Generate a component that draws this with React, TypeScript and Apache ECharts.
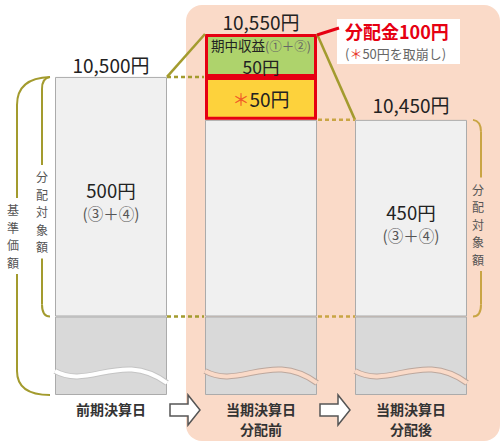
import React, { useEffect, useRef } from 'react';
import * as echarts from 'echarts';

// ---- data ----
const categories = ['前期決算日', '当期決算日\n分配前', '当期決算日\n分配後'];
const baseValue = [10000, 10000, 10000];
const distributable = [500, 450, 450];
const reserveUsed: (number | string)[] = ['-', 50, '-'];
const periodIncome: (number | string)[] = ['-', 50, '-'];
const navTotals = [10500, 10550, 10450];
const distributionTotal = 100;
const reserveTaken = 50;
const braceLabels = ['基準価額', '分配対象額', '分配対象額'];

// ---- styles ----
const FONT = "'Noto Sans CJK JP', 'Noto Sans', sans-serif";
const BAR_W = 112;
const OLIVE = '#a39b2e';
const GOLD = '#c9a544';
const RED = '#e60012';
const PINK = '#fadac8';
const VLH = 17.5;

const fmt = (n: number) => String(n).replace(/\B(?=(\d{3})+(?!\d))/g, ',');
const vert = (s: string) => s.split('').join('\n');

const option: any = {
  animation: false,
  textStyle: { fontFamily: FONT },
  grid: { left: 36, top: 34, width: 450, height: 361, containLabel: false, outerBoundsMode: 'none' },
  xAxis: {
    type: 'category',
    data: categories,
    axisLine: { show: false },
    axisTick: { show: false },
    splitLine: { show: false },
    axisLabel: {
      interval: 0,
      margin: 4,
      fontSize: 14,
      lineHeight: 20.3,
      fontWeight: 'bold',
      color: '#333',
      fontFamily: FONT,
    },
  },
  yAxis: {
    type: 'value',
    min: 0,
    max: 10550,
    axisLine: { show: false },
    axisTick: { show: false },
    axisLabel: { show: false },
    splitLine: { show: false },
    breaks: [
      { start: 12, end: 9940, gap: 19.4 },
      { start: 10050, end: 10400, gap: 129 },
    ],
    breakArea: { show: false },
  },
  series: [
    {
      name: 'base',
      type: 'bar',
      stack: 's',
      barWidth: BAR_W,
      data: baseValue,
      silent: true,
      itemStyle: { color: '#d9d9d9', borderColor: '#ababab', borderWidth: 1 },
    },
    {
      name: 'distributable',
      type: 'bar',
      stack: 's',
      barWidth: BAR_W,
      data: distributable,
      silent: true,
      itemStyle: { color: '#f0f0f0', borderColor: '#ababab', borderWidth: 1 },
      label: {
        show: true,
        position: 'inside',
        offset: [0, 4],
        textBorderWidth: 0,
        formatter: (p: any) => (p.dataIndex === 1 ? '' : `{v|${p.value}円}\n{s|(③＋④)}`),
        rich: {
          v: { fontSize: 18.5, color: '#222', lineHeight: 25, fontFamily: FONT },
          s: { fontSize: 15.5, color: '#555', lineHeight: 21, fontFamily: FONT },
        },
      },
    },
    {
      name: 'reserve',
      type: 'bar',
      stack: 's',
      barWidth: BAR_W,
      data: reserveUsed,
      silent: true,
      itemStyle: { color: '#fdd23c', borderColor: RED, borderWidth: 3 },
      label: {
        show: true,
        position: 'inside',
        textBorderWidth: 0,
        formatter: (p: any) => `{a|＊}{v|${p.value}円}`,
        rich: {
          a: { fontSize: 17, color: '#f05a28', fontFamily: FONT, lineHeight: 22 },
          v: { fontSize: 19, color: '#222', fontFamily: FONT, lineHeight: 22 },
        },
      },
    },
    {
      name: 'income',
      type: 'bar',
      stack: 's',
      barWidth: BAR_W,
      data: periodIncome,
      silent: true,
      itemStyle: { color: '#aed36c', borderColor: RED, borderWidth: 3 },
      label: {
        show: true,
        position: 'inside',
        offset: [0, 1],
        textBorderWidth: 0,
        formatter: (p: any) => `{t|期中収益}{s|(①＋②)}\n{v|${p.value}円}`,
        rich: {
          t: { fontSize: 13.5, color: '#222', lineHeight: 21, fontFamily: FONT },
          s: { fontSize: 12.5, color: '#666', lineHeight: 21, fontFamily: FONT },
          v: { fontSize: 17.5, color: '#222', lineHeight: 22, fontFamily: FONT },
        },
      },
    },
  ],
};

function buildGraphic(chart: any) {
  const px = (i: number, v: number) => chart.convertToPixel({ gridIndex: 0 }, [i, v]);
  const xc = categories.map((_, i) => px(i, 0)[0]);
  const yOf = (v: number) => px(0, v)[1];
  const half = BAR_W / 2;
  const L = xc.map((x: number) => x - half);
  const R = xc.map((x: number) => x + half);
  const yBottom = yOf(0);
  const y10000 = yOf(baseValue[0]);
  const yTop = navTotals.map(yOf);

  const els: any[] = [];
  // background
  els.push({
    type: 'rect', z: -100, silent: true,
    shape: { x: L[1] - 19, y: yTop[1] - 29, width: 314, height: 436, r: 16 },
    style: { fill: PINK },
  });

  // waves (axis break symbol)
  [0, 1, 2].forEach((i) => {
    const shape = {
      x1: L[i], y1: yBottom - 24, x2: R[i], y2: yBottom - 12,
      cpx1: L[i] + 0.3 * BAR_W, cpy1: yBottom - 5,
      cpx2: L[i] + 0.6 * BAR_W, cpy2: yBottom - 45,
    };
    const band = i === 0 ? '#ffffff' : PINK;
    const edge = i === 0 ? '#c4c4c4' : '#bca79d';
    els.push({ type: 'bezierCurve', z: 40, silent: true, shape, style: { stroke: edge, lineWidth: 6, fill: null } });
    els.push({ type: 'bezierCurve', z: 41, silent: true, shape, style: { stroke: band, lineWidth: 4, fill: null } });
  });

  const line = (x1: number, y1: number, x2: number, y2: number, stroke: string, dash?: number[], w = 2.5) => ({
    type: 'line', z: 30, silent: true,
    shape: { x1, y1, x2, y2 },
    style: { stroke, lineWidth: w, lineDash: dash },
  });
  // connectors
  els.push(line(R[0], yTop[0], L[1], yTop[1], OLIVE));
  els.push(line(R[0], yTop[0], L[1] - 1, yTop[0], OLIVE, [4, 3]));
  els.push(line(R[0], y10000, L[1] - 1, y10000, OLIVE, [4, 3]));
  els.push(line(R[1], yTop[1], L[2], yTop[2], OLIVE));
  els.push(line(R[1] + 1, yTop[2], L[2], yTop[2], GOLD, [4, 3]));
  els.push(line(R[1] + 1, y10000, L[2], y10000, GOLD, [4, 3]));

  // distribution callout
  els.push({
    type: 'rect', z: 20, silent: true,
    shape: { x: R[1] + 20, y: yTop[1] - 15, width: 123, height: 45 },
    style: { fill: '#ffffff' },
  });
  els.push(line(R[1], yTop[1] + 1, R[1] + 22, yTop[1] - 6, RED, undefined, 3));
  els.push({
    type: 'text', z: 50, silent: true,
    x: R[1] + 28, y: yTop[1] - 3,
    style: {
      text: `分配金${distributionTotal}円`, fill: RED, fontSize: 18, lineHeight: 18, fontWeight: 'bold', fontFamily: FONT,
      align: 'left', verticalAlign: 'middle', textAlign: 'left', textVerticalAlign: 'middle',
    },
  });
  els.push({
    type: 'text', z: 50, silent: true,
    x: R[1] + 28, y: yTop[1] + 19,
    style: {
      text: `{p|(}{a|＊}{p|${reserveTaken}円を取崩し)}`,
      fontFamily: FONT,
      lineHeight: 14,
      align: 'left', verticalAlign: 'middle', textAlign: 'left', textVerticalAlign: 'middle',
      rich: {
        p: { fontSize: 13, lineHeight: 14, fill: '#666', fontFamily: FONT },
        a: { fontSize: 13, lineHeight: 14, fill: '#e8382b', fontFamily: FONT },
      },
    },
  });

  // totals
  const offs = [12, 13, 15];
  navTotals.forEach((v, i) => {
    els.push({
      type: 'text', z: 50, silent: true,
      x: xc[i], y: yTop[i] - offs[i],
      style: {
        text: `${fmt(v)}円`, fill: '#222', fontSize: 19, lineHeight: 20, fontFamily: FONT,
        align: 'center', verticalAlign: 'middle', textAlign: 'center', textVerticalAlign: 'middle',
      },
    });
  });

  // braces
  const bez = (x1: number, y1: number, cx: number, cy: number, x2: number, y2: number, stroke: string) => ({
    type: 'bezierCurve', z: 30, silent: true,
    shape: { x1, y1, x2, y2, cpx1: cx, cpy1: cy },
    style: { stroke, lineWidth: 2, fill: null },
  });
  const vtext = (s: string, x: number, y: number) => ({
    type: 'text', z: 50, silent: true, x, y,
    style: {
      text: vert(s), fill: '#555', fontSize: 12, lineHeight: VLH, fontFamily: FONT,
      align: 'center', verticalAlign: 'middle', textAlign: 'center', textVerticalAlign: 'middle',
    },
  });
  // outer left (基準価額)
  {
    const X = L[0] - 38;
    const tip = L[0] - 5;
    const c = (yTop[0] + yBottom) / 2;
    const g = (braceLabels[0].length * VLH) / 2 + 3;
    els.push(bez(tip, yTop[0], X, yTop[0] + 1, X, yTop[0] + 28, OLIVE));
    els.push(line(X, yTop[0] + 28, X, c - g, OLIVE, undefined, 2));
    els.push(line(X, c + g, X, yBottom - 24, OLIVE, undefined, 2));
    els.push(bez(X, yBottom - 24, X, yBottom, tip, yBottom, OLIVE));
    els.push(vtext(braceLabels[0], L[0] - 42, c));
  }
  // inner left (分配対象額)
  {
    const X = L[0] - 13;
    const tip = L[0] - 5;
    const c = (yTop[0] + y10000) / 2 + 15;
    const g = (braceLabels[1].length * VLH) / 2 + 3;
    els.push(bez(tip, yTop[0], X, yTop[0] + 1, X, yTop[0] + 12, OLIVE));
    els.push(line(X, yTop[0] + 12, X, c - g, OLIVE, undefined, 2));
    els.push(line(X, c + g, X, y10000 - 12, OLIVE, undefined, 2));
    els.push(bez(X, y10000 - 12, X, y10000, tip, y10000, OLIVE));
    els.push(vtext(braceLabels[1], X, c));
  }
  // right (分配対象額)
  {
    const X = R[2] + 14;
    const tip = R[2] + 6;
    const c = (yTop[2] + y10000) / 2 + 6;
    const g = (braceLabels[2].length * VLH) / 2 + 3;
    els.push(bez(tip, yTop[2], X, yTop[2] + 1, X, yTop[2] + 12, GOLD));
    els.push(line(X, yTop[2] + 12, X, c - g, GOLD, undefined, 2));
    els.push(line(X, c + g, X, y10000 - 12, GOLD, undefined, 2));
    els.push(bez(X, y10000 - 12, X, y10000, tip, y10000, GOLD));
    els.push(vtext(braceLabels[2], X - 3, c));
  }

  // arrows
  [0, 1].forEach((i) => {
    const cx = (R[i] + L[i + 1]) / 2 - 1;
    const cy = yBottom + 15;
    els.push({
      type: 'polygon', z: 50, silent: true,
      shape: {
        points: [
          [cx - 15, cy - 6], [cx + 3, cy - 6], [cx + 3, cy - 15], [cx + 15, cy],
          [cx + 3, cy + 15], [cx + 3, cy + 6], [cx - 15, cy + 6],
        ],
      },
      style: { fill: '#ffffff', stroke: '#555', lineWidth: 1.5, lineJoin: 'miter' },
    });
  });

  return els;
}

export default function App() {
  const ref = useRef<HTMLDivElement>(null);
  useEffect(() => {
    document.body.style.margin = '0';
    const chart = echarts.init(ref.current as HTMLDivElement, null, { renderer: 'svg' });
    chart.setOption(option);
    chart.setOption({ graphic: { elements: buildGraphic(chart) } });
    return () => chart.dispose();
  }, []);
  return <div ref={ref} style={{ width: 503, height: 441 }} />;
}
